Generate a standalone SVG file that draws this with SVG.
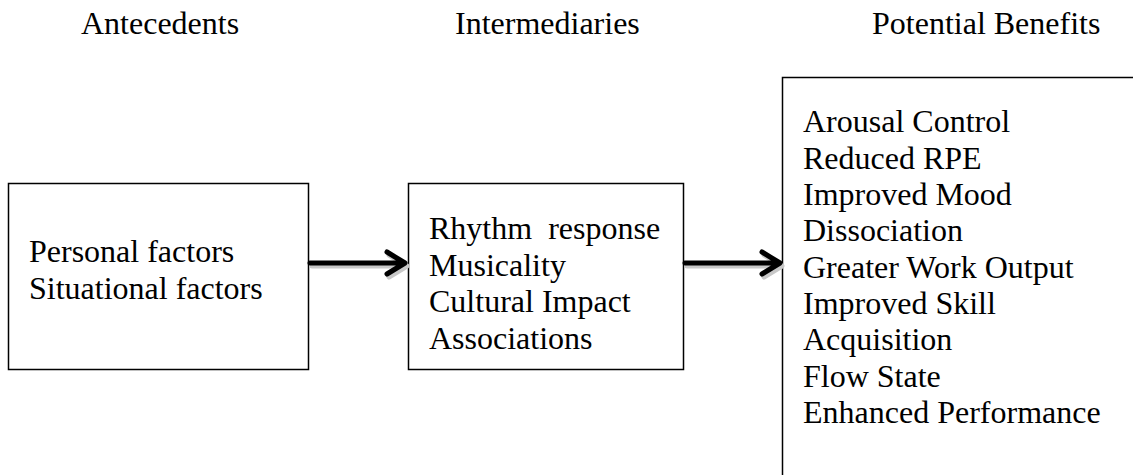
<svg xmlns="http://www.w3.org/2000/svg" width="1133" height="475" viewBox="0 0 1133 475" font-family="'Liberation Serif', 'Times New Roman', Tinos, 'DejaVu Serif', serif">
<style>
text{font-family:'Liberation Serif','Times New Roman',Tinos,'DejaVu Serif',serif;font-size:32px;fill:#000}
.box{fill:#fff;stroke:#000;stroke-width:1.5}
.arr{fill:none;stroke:#000;stroke-width:5;stroke-linecap:round;stroke-linejoin:round}
.sh{fill:none;stroke:#c8c8c8;stroke-width:5;stroke-linecap:round;stroke-linejoin:round}
</style>
<rect width="1133" height="475" fill="#fff"/>
<g id="headers">
<text x="81" y="34" font-size="31">Antecedents</text>
<text x="455" y="34" font-size="31">Intermediaries</text>
<text x="872" y="34" font-size="31">Potential Benefits</text>
</g>
<g id="antecedents">
<rect class="box" x="8.5" y="183.5" width="300" height="186"/>
<text x="29" y="262">Personal factors</text>
<text x="29" y="299">Situational factors</text>
</g>
<g id="intermediaries">
<rect class="box" x="408.5" y="183.5" width="275" height="186"/>
<text x="429" y="239" xml:space="preserve">Rhythm  response</text>
<text x="429" y="275.5">Musicality</text>
<text x="429" y="312">Cultural Impact</text>
<text x="429" y="348.5">Associations</text>
</g>
<g id="benefits">
<path class="box" d="M782.5 480 V77.5 H1140" fill="none"/>
<text x="803" y="132">Arousal Control</text>
<text x="803" y="168.5">Reduced RPE</text>
<text x="803" y="205">Improved Mood</text>
<text x="803" y="241">Dissociation</text>
<text x="803" y="277.5">Greater Work Output</text>
<text x="803" y="314">Improved Skill</text>
<text x="803" y="350">Acquisition</text>
<text x="803" y="386.5">Flow State</text>
<text x="803" y="423">Enhanced Performance</text>
</g>
<g id="connectors">
<g transform="translate(2,3)">
<path class="sh" d="M310 263 H404 M387 252 L405 263 L387 274"/>
<path class="sh" d="M685 263 H779 M762 252 L780 263 L762 274"/>
</g>
<path class="arr" d="M310 263 H404 M387 252 L405 263 L387 274"/>
<path class="arr" d="M685 263 H779 M762 252 L780 263 L762 274"/>
</g>
</svg>
